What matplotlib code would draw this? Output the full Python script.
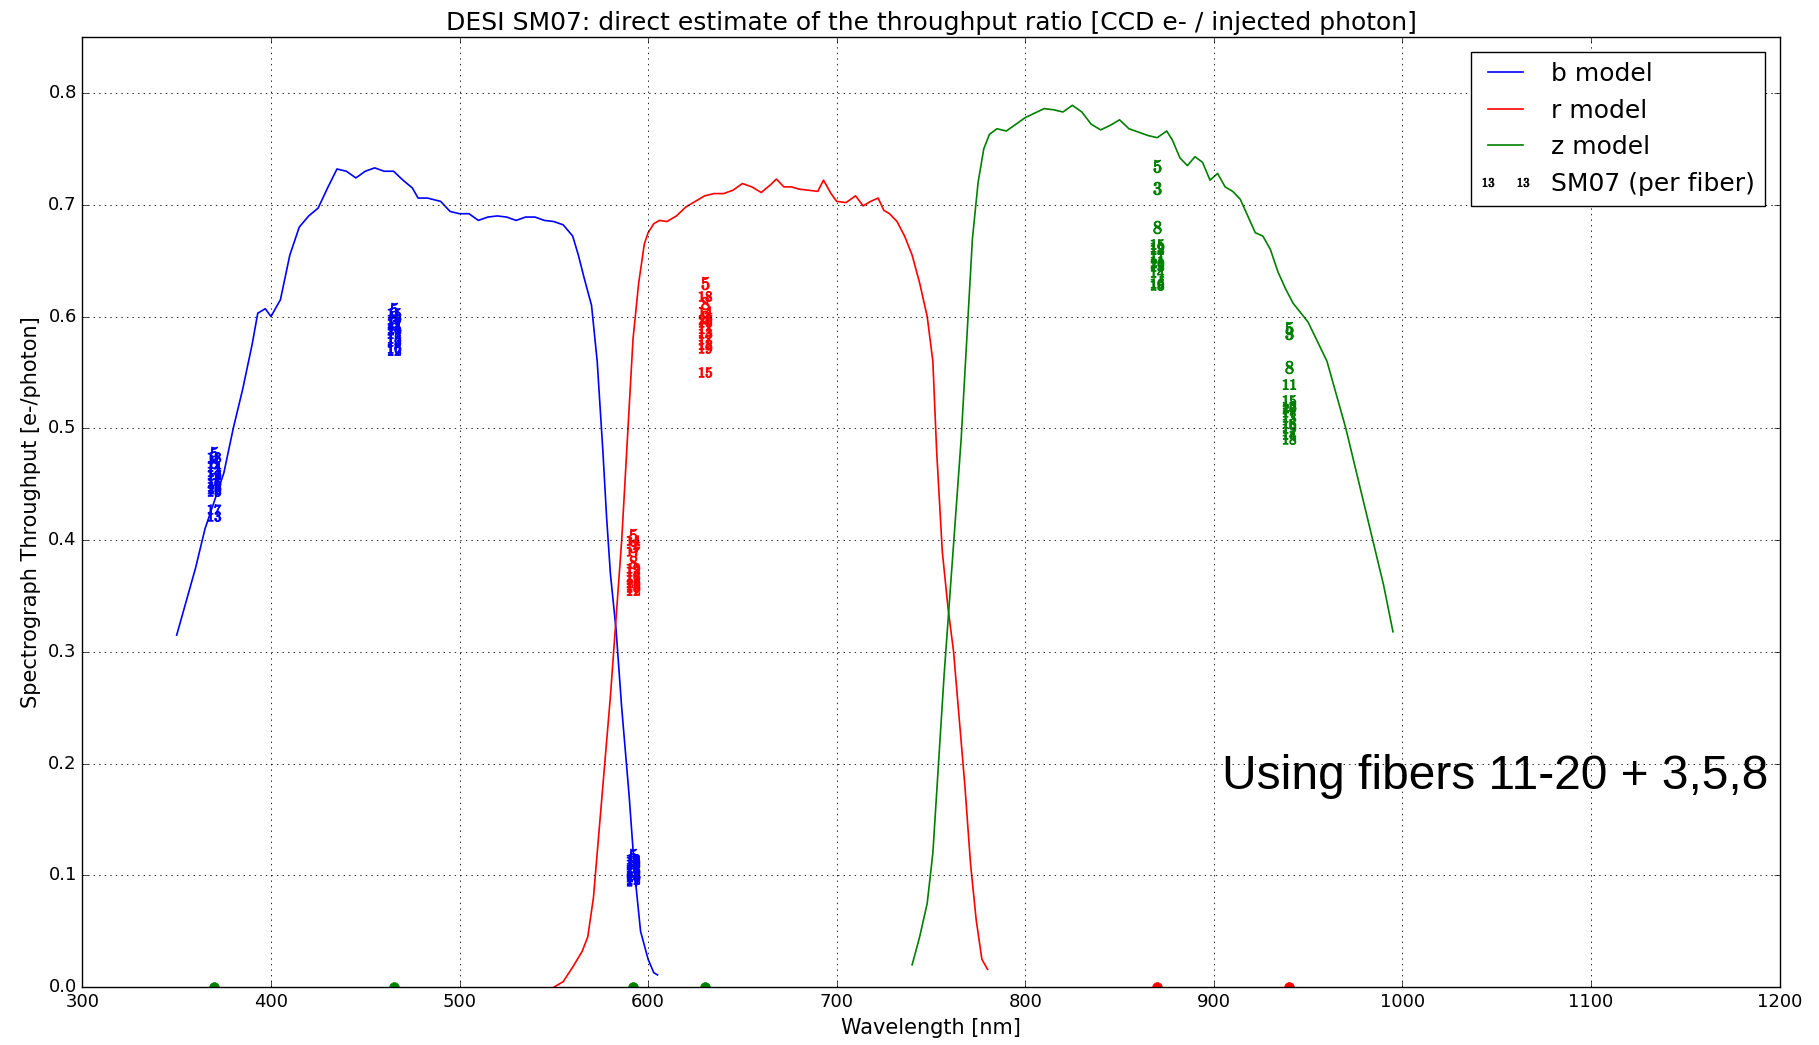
import matplotlib
matplotlib.use('Agg')
import matplotlib.pyplot as plt
from matplotlib.lines import Line2D

plt.style.use('classic')

# model curves
b_wave = [350, 355, 360, 365, 370, 375, 380, 385, 390, 393, 397, 400, 405, 410, 415, 420, 425,
          430, 435, 440, 445, 450, 455, 460, 465, 470, 475, 478, 483, 490, 495, 500, 505, 510,
          515, 520, 525, 530, 535, 540, 545, 550, 555, 560, 563, 566, 570, 573, 576, 578, 580,
          583, 586, 590, 593, 596, 600, 603, 605]
b_model = [0.315, 0.345, 0.375, 0.41, 0.435, 0.46, 0.50, 0.535, 0.575, 0.603, 0.607, 0.60, 0.615,
           0.655, 0.68, 0.69, 0.697, 0.715, 0.732, 0.73, 0.724, 0.73, 0.733, 0.73, 0.73, 0.722,
           0.715, 0.706, 0.706, 0.703, 0.694, 0.692, 0.692, 0.686, 0.689, 0.69, 0.689, 0.686,
           0.689, 0.689, 0.686, 0.685, 0.682, 0.672, 0.655, 0.635, 0.61, 0.56, 0.48, 0.42, 0.37,
           0.32, 0.25, 0.17, 0.10, 0.05, 0.025, 0.013, 0.011]

r_wave = [550, 555, 560, 565, 568, 571, 574, 577, 580, 583, 586, 589, 592, 595, 598, 600, 603,
          606, 610, 615, 620, 625, 630, 635, 640, 645, 650, 655, 660, 665, 668, 672, 676, 680,
          685, 690, 693, 697, 700, 705, 710, 714, 718, 722, 725, 728, 732, 736, 740, 744, 748,
          751, 753, 756, 759, 762, 765, 768, 771, 774, 777, 780]
r_model = [0.0, 0.005, 0.018, 0.032, 0.045, 0.08, 0.14, 0.2, 0.26, 0.33, 0.40, 0.49, 0.58, 0.63,
           0.665, 0.675, 0.683, 0.686, 0.685, 0.69, 0.698, 0.703, 0.708, 0.71, 0.71, 0.713,
           0.719, 0.716, 0.711, 0.718, 0.723, 0.716, 0.716, 0.714, 0.713, 0.712, 0.722, 0.71,
           0.703, 0.702, 0.708, 0.699, 0.703, 0.706, 0.695, 0.692, 0.685, 0.672, 0.655, 0.63,
           0.60, 0.56, 0.48, 0.39, 0.34, 0.30, 0.24, 0.18, 0.11, 0.06, 0.025, 0.016]

z_wave = [740, 744, 748, 751, 754, 757, 760, 763, 766, 769, 772, 775, 778, 781, 785, 790, 795,
          800, 805, 810, 815, 820, 825, 830, 835, 840, 845, 850, 855, 860, 865, 870, 875, 878,
          882, 886, 890, 894, 898, 902, 906, 910, 914, 918, 922, 926, 930, 934, 938, 942, 950,
          960, 970, 980, 990, 995]
z_model = [0.02, 0.045, 0.075, 0.12, 0.2, 0.28, 0.35, 0.42, 0.49, 0.58, 0.67, 0.72, 0.75, 0.763,
           0.768, 0.766, 0.772, 0.778, 0.782, 0.786, 0.785, 0.783, 0.789, 0.783, 0.772, 0.767,
           0.771, 0.776, 0.768, 0.765, 0.762, 0.76, 0.766, 0.758, 0.742, 0.735, 0.743, 0.738,
           0.722, 0.728, 0.716, 0.712, 0.705, 0.69, 0.675, 0.672, 0.66, 0.64, 0.625, 0.612,
           0.595, 0.56, 0.50, 0.43, 0.36, 0.318]

# per-fiber measurements at the laser wavelengths
fibers = [3, 5, 8, 11, 12, 13, 14, 15, 16, 17, 18, 19, 20]
b_points = {
    370: [0.455, 0.478, 0.470, 0.462, 0.448, 0.422, 0.466, 0.444, 0.452, 0.428, 0.474, 0.458, 0.446],
    465: [0.596, 0.607, 0.600, 0.585, 0.570, 0.578, 0.590, 0.603, 0.572, 0.594, 0.581, 0.598, 0.588],
    592: [0.112, 0.118, 0.108, 0.104, 0.097, 0.115, 0.100, 0.110, 0.106, 0.095, 0.113, 0.102, 0.099],
}
r_points = {
    592: [0.395, 0.405, 0.380, 0.365, 0.355, 0.372, 0.400, 0.360, 0.368, 0.390, 0.358, 0.375, 0.362],
    630: [0.600, 0.630, 0.612, 0.590, 0.575, 0.585, 0.605, 0.550, 0.595, 0.580, 0.618, 0.572, 0.598],
}
z_points = {
    870: [0.715, 0.735, 0.680, 0.650, 0.660, 0.645, 0.640, 0.665, 0.630, 0.655, 0.628, 0.662, 0.648],
    940: [0.585, 0.590, 0.555, 0.540, 0.520, 0.510, 0.495, 0.525, 0.505, 0.515, 0.490, 0.500, 0.518],
}
# arms that see nothing at a given laser line
zero_green = [370, 465, 592, 630]
zero_red = [870, 940]

fig = plt.figure(figsize=(18.19, 10.45), dpi=100, facecolor='white')
ax = fig.add_subplot(111)
fig.subplots_adjust(left=0.0453, right=0.9783, top=0.9645, bottom=0.0553)

ax.plot(b_wave, b_model, color='b', lw=1.2, label='b model')
ax.plot(r_wave, r_model, color='r', lw=1.2, label='r model')
ax.plot(z_wave, z_model, color='g', lw=1.2, label='z model')

for points, col in [(b_points, 'b'), (r_points, 'r'), (z_points, 'g')]:
    for wave, vals in points.items():
        for fib, v in zip(fibers, vals):
            ax.plot([wave], [v], linestyle='none', marker='$%d$' % fib, markersize=9,
                    color=col, markeredgecolor=col, markeredgewidth=0.8)

ax.plot(zero_green, [0] * len(zero_green), 'o', color='g', markeredgecolor='g', markersize=7)
ax.plot(zero_red, [0] * len(zero_red), 'o', color='r', markeredgecolor='r', markersize=7)

ax.set_xlim(300, 1200)
ax.set_ylim(0, 0.85)
ax.set_xticks(range(300, 1201, 100))
ax.set_yticks([0.0, 0.1, 0.2, 0.3, 0.4, 0.5, 0.6, 0.7, 0.8])
ax.tick_params(labelsize=13)
ax.grid(True, color='black', linestyle=':', linewidth=0.6)

ax.set_xlabel('Wavelength [nm]', fontsize=15)
ax.set_ylabel('Spectrograph Throughput [e-/photon]', fontsize=15)
ax.set_title('DESI SM07: direct estimate of the throughput ratio [CCD e- / injected photon]',
             fontsize=18)

handles, labels = ax.get_legend_handles_labels()
handles.append(Line2D([], [], linestyle='none', marker='$13$', markersize=8, color='k'))
labels.append('SM07 (per fiber)')
leg = ax.legend(handles, labels, loc='upper right', numpoints=2, fontsize=18,
                borderaxespad=0.6)

ax.text(0.9935, 0.222, 'Using fibers 11-20 + 3,5,8', transform=ax.transAxes,
        ha='right', va='center', fontsize=34.5, family='Liberation Sans')

fig.savefig('out.png', dpi=100, facecolor='white')
